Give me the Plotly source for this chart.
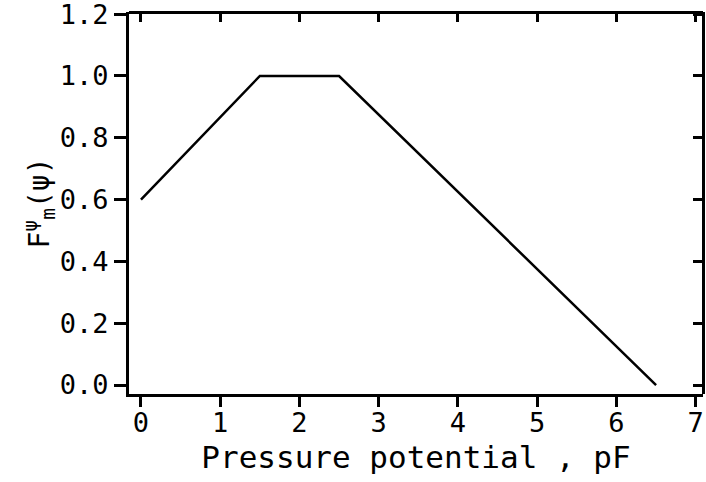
import plotly.graph_objects as go

x_vals = [0, 1.5, 2.5, 6.5]
y_vals = [0.6, 1.0, 1.0, 0.0]
x_ticks = [0, 1, 2, 3, 4, 5, 6, 7]
y_ticks = [0.0, 0.2, 0.4, 0.6, 0.8, 1.0, 1.2]
y_tick_text = ["0.0", "0.2", "0.4", "0.6", "0.8", "1.0", "1.2"]

FONT = "DejaVu Sans Mono"
xr = [-0.151, 7.092]
yr = [-0.029, 1.207]

fig = go.Figure()
fig.add_trace(go.Scatter(x=x_vals, y=y_vals, mode="lines",
                         line=dict(color="black", width=2.5),
                         showlegend=False, hoverinfo="skip"))
# transparent traces carrying the frame axes (top/right)
fig.add_trace(go.Scatter(x=x_vals, y=y_vals, mode="lines", xaxis="x2", yaxis="y",
                         line=dict(color="black", width=1), opacity=0,
                         showlegend=False, hoverinfo="skip"))
fig.add_trace(go.Scatter(x=x_vals, y=y_vals, mode="lines", xaxis="x", yaxis="y2",
                         line=dict(color="black", width=1), opacity=0,
                         showlegend=False, hoverinfo="skip"))

axis_common = dict(showgrid=False, zeroline=False, showline=True,
                   linecolor="black", linewidth=3, tickcolor="black",
                   tickwidth=3, automargin=False)

fig.update_layout(
    width=706, height=482,
    margin=dict(l=129, r=3, t=12, b=88),
    paper_bgcolor="white", plot_bgcolor="white",
    font=dict(family=FONT, color="black", size=27),
    xaxis=dict(range=xr, tickvals=x_ticks, ticks="outside", ticklen=10,
               tickfont=dict(family=FONT, size=27, color="black"),
               ticklabeloverflow="allow", ticklabelstandoff=-7,
               title=dict(text="Pressure potential , pF", standoff=9,
                          font=dict(family=FONT, size=31, color="black")),
               **axis_common),
    yaxis=dict(range=yr, tickvals=y_ticks, ticktext=y_tick_text,
               ticks="outside", ticklen=12,
               tickfont=dict(family=FONT, size=27, color="black"),
               ticklabeloverflow="allow",
               title=dict(text="F<sup>ψ</sup><sub>m</sub>(ψ)", standoff=0,
                          font=dict(family=FONT, size=28, color="black")),
               **axis_common),
    # top frame axis: bottom-side ticks placed at the top -> ticks point down
    xaxis2=dict(range=xr, tickvals=x_ticks, ticks="outside", ticklen=8,
                overlaying="x", side="bottom", anchor="free", position=1,
                showticklabels=False, **axis_common),
    # right frame axis: left-side ticks placed at the right -> ticks point left
    yaxis2=dict(range=yr, tickvals=y_ticks, ticks="outside", ticklen=9,
                overlaying="y", side="left", anchor="free", position=1,
                showticklabels=False, **axis_common),
)

fig.write_html("out.html", config={"displayModeBar": False},
               post_script="document.body.style.margin='0';")
